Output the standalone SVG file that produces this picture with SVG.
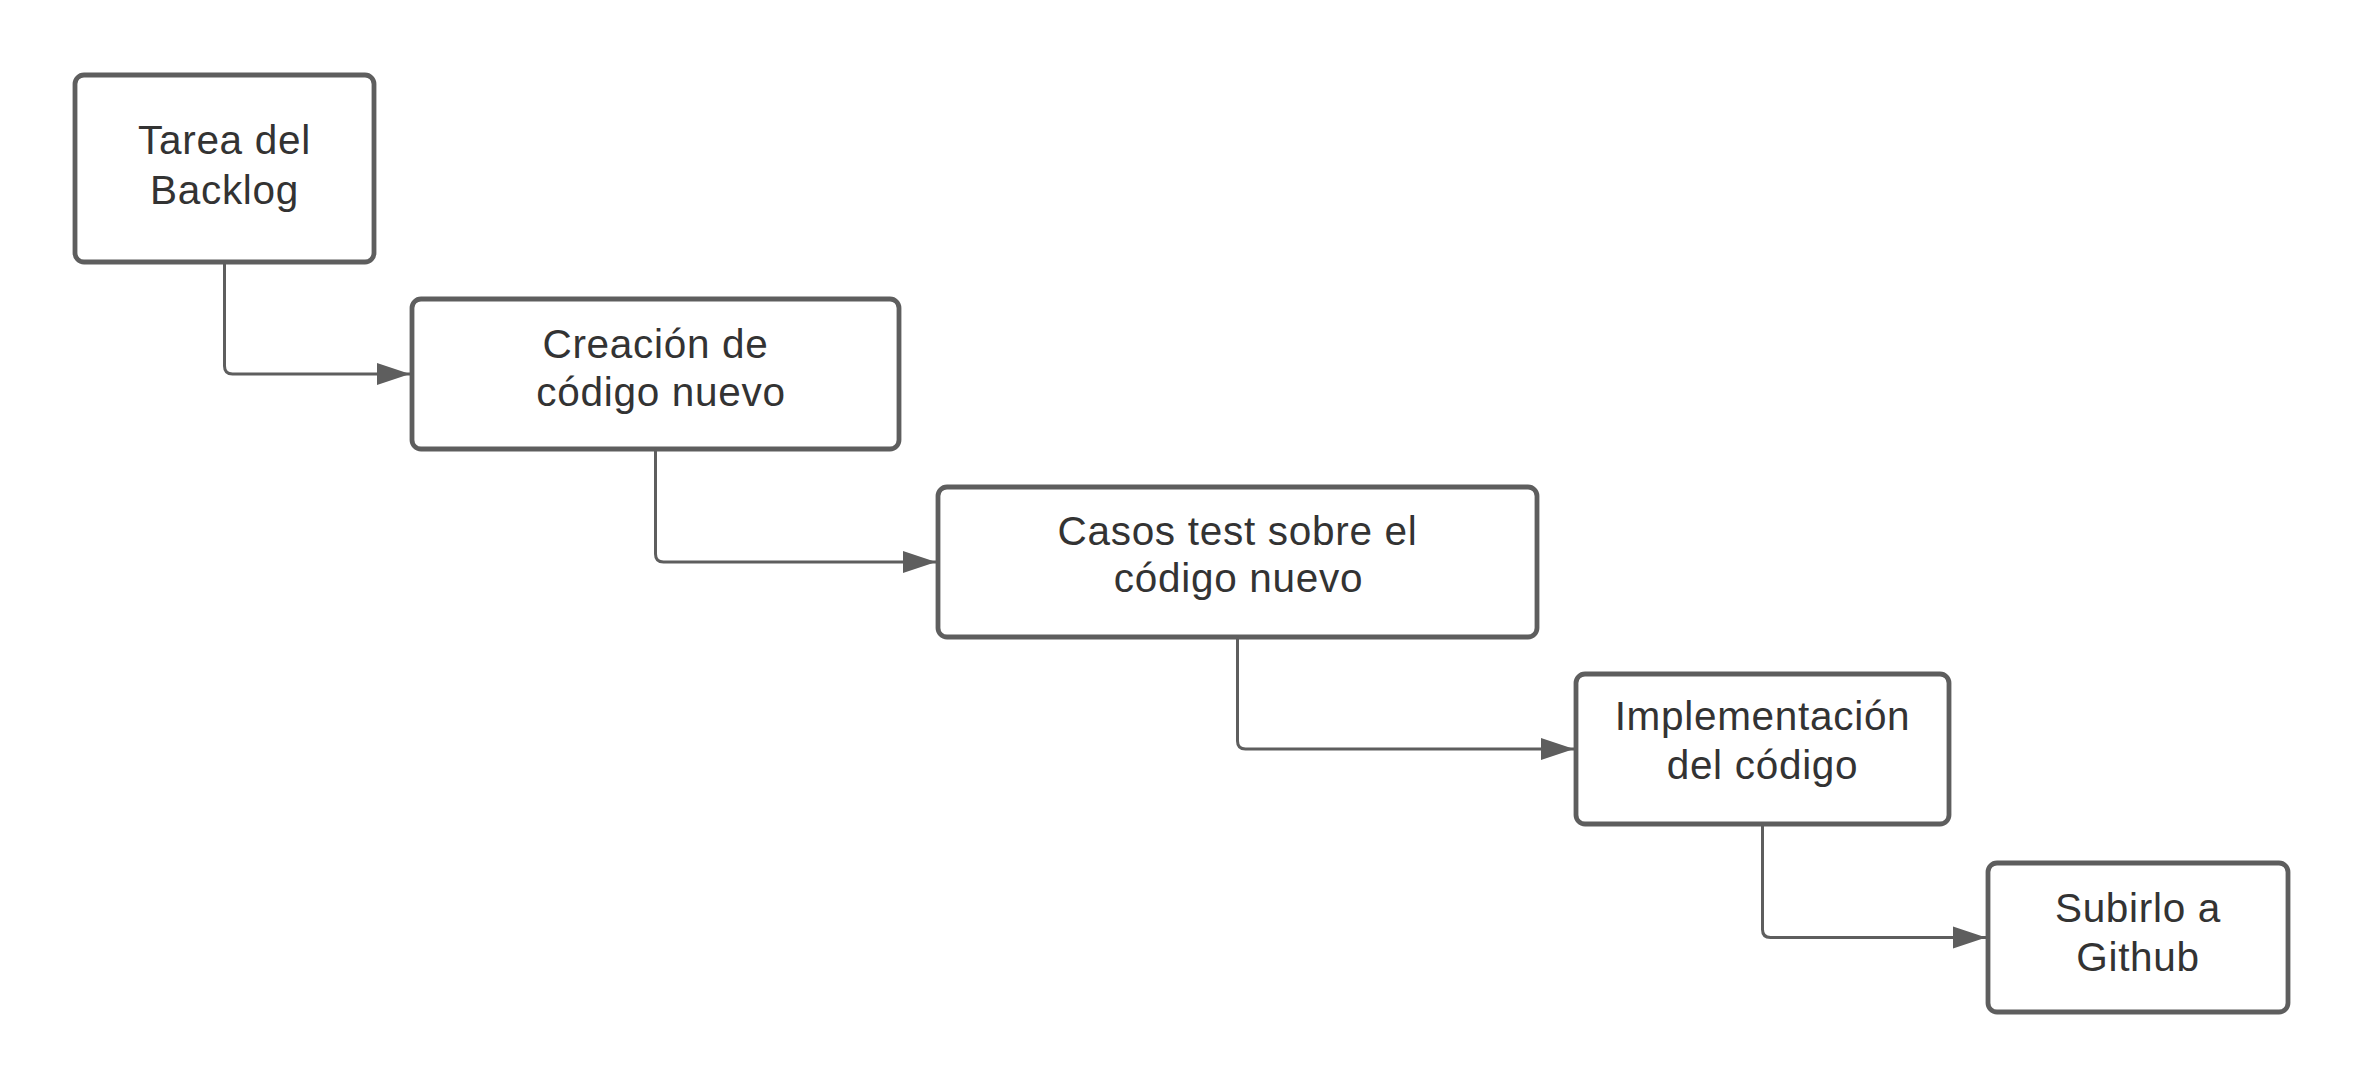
<svg xmlns="http://www.w3.org/2000/svg" width="2363" height="1088" viewBox="0 0 2363 1088">
<style>
.box{fill:#ffffff;stroke:#5e5e5e;stroke-width:4.8}
.lbl{font-family:"Liberation Sans",Arial,sans-serif;font-size:40.5px;letter-spacing:0.7px;fill:#333333;text-anchor:middle}
.conn{fill:none;stroke:#5e5e5e;stroke-width:3}
</style>
<defs>
<marker id="arr" markerUnits="userSpaceOnUse" markerWidth="34" markerHeight="24" refX="33" refY="12" orient="auto">
<path d="M0,1 L33,12 L0,23 Z" fill="#5e5e5e"/>
</marker>
</defs>
<rect width="2363" height="1088" fill="#ffffff"/>
<g id="connectors">
<path class="conn" d="M224.5,262 V366 Q224.5,374 232.5,374 H410" marker-end="url(#arr)"/>
<path class="conn" d="M655.5,449 V554 Q655.5,562 663.5,562 H936" marker-end="url(#arr)"/>
<path class="conn" d="M1237.5,637 V741 Q1237.5,749 1245.5,749 H1574" marker-end="url(#arr)"/>
<path class="conn" d="M1762.5,824 V929.5 Q1762.5,937.5 1770.5,937.5 H1986" marker-end="url(#arr)"/>
</g>
<g id="n1">
<rect class="box" x="75" y="75" width="299" height="187" rx="9"/>
<text class="lbl"><tspan x="224.5" y="154">Tarea del</tspan><tspan x="224.5" y="204">Backlog</tspan></text>
</g>
<g id="n2">
<rect class="box" x="412" y="299" width="487" height="150" rx="9"/>
<text class="lbl"><tspan x="655.5" y="358">Creación de</tspan><tspan x="661" y="406">código nuevo</tspan></text>
</g>
<g id="n3">
<rect class="box" x="938" y="487" width="599" height="150" rx="9"/>
<text class="lbl"><tspan x="1237.5" y="545">Casos test sobre el</tspan><tspan x="1238.5" y="592">código nuevo</tspan></text>
</g>
<g id="n4">
<rect class="box" x="1576" y="674" width="373" height="150" rx="9"/>
<text class="lbl"><tspan x="1762.5" y="730">Implementación</tspan><tspan x="1762.5" y="779">del código</tspan></text>
</g>
<g id="n5">
<rect class="box" x="1988" y="863" width="300" height="149" rx="9"/>
<text class="lbl"><tspan x="2138" y="922">Subirlo a</tspan><tspan x="2138" y="971">Github</tspan></text>
</g>
</svg>
